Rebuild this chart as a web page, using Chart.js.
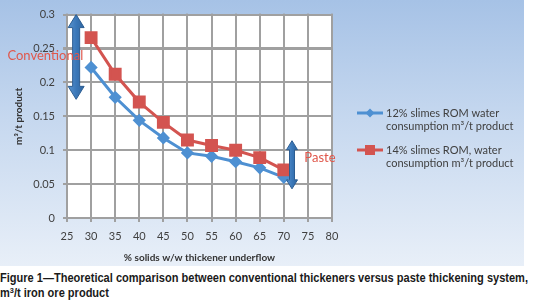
<!DOCTYPE html>
<html><head><meta charset="utf-8">
<script src="https://cdn.jsdelivr.net/npm/chart.js@4/dist/chart.umd.min.js"></script>
<style>
html,body{margin:0;padding:0;background:#fff;width:535px;height:306px;overflow:hidden}
.panel{position:absolute;left:0;top:0;width:524px;height:266px;background:linear-gradient(to bottom,#a6c2e6 0%,#c6d8ef 45%,#e8eff8 100%)}
canvas{position:absolute;left:0;top:0}
.cap{position:absolute;left:0;top:271px;font:bold 12px "Liberation Sans",Arial,sans-serif;color:#1a1a1a;line-height:15px;white-space:nowrap;transform-origin:0 0}
.cap sup{font-size:8px;line-height:0;vertical-align:4px}
</style></head><body>
<div class="panel"><canvas id="chartCanvas" width="524" height="266"></canvas></div>
<div class="cap" id="figCaption"><div id="figCaption1">Figure 1—Theoretical comparison between conventional thickeners versus paste thickening system,</div><div>m<sup>3</sup>/t iron ore product</div></div>
<script>
// ---- data ----
const solids = [30, 35, 40, 45, 50, 55, 60, 65, 70];
const slimes12 = [0.222, 0.178, 0.144, 0.118, 0.096, 0.091, 0.083, 0.074, 0.060];
const slimes14 = [0.266, 0.212, 0.171, 0.141, 0.115, 0.107, 0.100, 0.089, 0.071];
const xTickValues = [25, 30, 35, 40, 45, 50, 55, 60, 65, 70, 75, 80];
const yTickValues = [0, 0.05, 0.1, 0.15, 0.2, 0.25, 0.3];
const yTickLabels = ['0', '0.05', '0.1', '0.15', '0.2', '0.25', '0.3'];
const seriesLabels = [
  ['12% slimes ROM water', 'consumption m\u00B3/t product'],
  ['14% slimes ROM, water', 'consumption m\u00B3/t product']
];
const xTitle = '% solids w/w thickener underflow';
const yTitle = 'm\u00B3/t product';
// annotation arrows (data coordinates) and their labels
const arrowConventional = {x: 26.9, yTop: 0.300, yBottom: 0.175};
const arrowPaste = {x: 71.7, yTop: 0.114, yBottom: 0.043};
const labelConventional = {text: 'Conventional', x: 20.5, y: 0.239};
const labelPaste = {text: 'Paste', x: 77.5, y: 0.0895};

const BLUE = '#4e90d2', RED = '#d35450';
const GRID_COLOR = '#a0a0a0';
const FONT = 'Lato, "Open Sans", sans-serif';

const toXY = (xs, ys) => xs.map((x, i) => ({x, y: ys[i]}));

// grid (as filled bars) + white plot area painted underneath everything already drawn
const plotBgPlugin = {
  id: 'plotBg',
  afterDraw(chart) {
    const {ctx, chartArea: a, scales: {x, y}} = chart;
    ctx.save();
    ctx.setTransform(1, 0, 0, 1, 0, 0);
    ctx.globalAlpha = 1;
    ctx.globalCompositeOperation = 'destination-over';
    ctx.fillStyle = GRID_COLOR;
    xTickValues.forEach(v => { const px = Math.round(x.getPixelForValue(v)); ctx.fillRect(px - 1, a.top - 1, 2, a.bottom - a.top + 5); });
    yTickValues.forEach(v => { const py = Math.round(y.getPixelForValue(v)); ctx.fillRect(a.left - 4, py - 1, a.right - a.left + 5, 2); });
    ctx.fillStyle = '#ffffff';
    ctx.fillRect(a.left, a.top, a.right - a.left, a.bottom - a.top);
    ctx.restore();
  }
};

function drawArrow(ctx, x, y1, y2, shaft, headW, headL) {
  ctx.save();
  const g = ctx.createLinearGradient(x - headW / 2, 0, x + headW / 2, 0);
  g.addColorStop(0, '#5a94cf'); g.addColorStop(0.5, '#3b78b9'); g.addColorStop(1, '#2f66a0');
  ctx.beginPath();
  ctx.moveTo(x, y1);
  ctx.lineTo(x + headW / 2, y1 + headL);
  ctx.lineTo(x + shaft / 2, y1 + headL);
  ctx.lineTo(x + shaft / 2, y2 - headL);
  ctx.lineTo(x + headW / 2, y2 - headL);
  ctx.lineTo(x, y2);
  ctx.lineTo(x - headW / 2, y2 - headL);
  ctx.lineTo(x - shaft / 2, y2 - headL);
  ctx.lineTo(x - shaft / 2, y1 + headL);
  ctx.lineTo(x - headW / 2, y1 + headL);
  ctx.closePath();
  ctx.fillStyle = g; ctx.fill();
  ctx.strokeStyle = '#2c5d92'; ctx.lineWidth = 1; ctx.stroke();
  ctx.restore();
}

const annotPlugin = {
  id: 'annot',
  afterDatasetsDraw(chart) {
    const {ctx, scales: {x, y}} = chart;
    drawArrow(ctx, x.getPixelForValue(arrowConventional.x), y.getPixelForValue(arrowConventional.yTop),
      y.getPixelForValue(arrowConventional.yBottom), 7, 16, 13);
    drawArrow(ctx, x.getPixelForValue(arrowPaste.x), y.getPixelForValue(arrowPaste.yTop),
      y.getPixelForValue(arrowPaste.yBottom), 5, 11, 9);
    ctx.save();
    ctx.fillStyle = '#e0574b';
    ctx.font = '13px ' + FONT;
    ctx.textAlign = 'center'; ctx.textBaseline = 'middle';
    ctx.fillText(labelConventional.text, x.getPixelForValue(labelConventional.x), y.getPixelForValue(labelConventional.y));
    ctx.fillText(labelPaste.text, x.getPixelForValue(labelPaste.x), y.getPixelForValue(labelPaste.y));
    ctx.restore();
  },
  afterDraw(chart) {
    const ctx = chart.ctx;
    const rows = [113, 150];
    chart.data.datasets.forEach((ds, i) => {
      const yy = rows[i];
      ctx.save();
      ctx.strokeStyle = ds.borderColor; ctx.lineWidth = 3;
      ctx.beginPath(); ctx.moveTo(357, yy); ctx.lineTo(383, yy); ctx.stroke();
      ctx.fillStyle = ds.pointBackgroundColor;
      if (ds.pointStyle === 'rectRot') {
        ctx.beginPath(); ctx.moveTo(370, yy - 4.5); ctx.lineTo(374.5, yy); ctx.lineTo(370, yy + 4.5); ctx.lineTo(365.5, yy); ctx.closePath(); ctx.fill();
      } else {
        ctx.fillRect(365, yy - 5, 10, 10);
      }
      ctx.fillStyle = '#404040';
      ctx.font = '11px ' + FONT;
      ctx.textAlign = 'left'; ctx.textBaseline = 'middle';
      seriesLabels[i].forEach((t, k) => ctx.fillText(t, 386, yy + k * 13.5));
      ctx.restore();
    });
  }
};

new Chart(document.getElementById('chartCanvas'), {
  type: 'scatter',
  data: {
    datasets: [
      {label: seriesLabels[0].join(' '), data: toXY(solids, slimes12), showLine: true,
       borderColor: BLUE, backgroundColor: BLUE, pointBackgroundColor: BLUE, pointBorderColor: BLUE,
       borderWidth: 3, pointStyle: 'rectRot', pointRadius: 4.5, tension: 0, order: 2},
      {label: seriesLabels[1].join(' '), data: toXY(solids, slimes14), showLine: true,
       borderColor: RED, backgroundColor: RED, pointBackgroundColor: RED, pointBorderColor: RED,
       borderWidth: 3, pointStyle: 'rect', pointRadius: 7, tension: 0, order: 1}
    ]
  },
  options: {
    responsive: false, animation: false, devicePixelRatio: 1,
    layout: {padding: {left: 0, top: 7, right: 192, bottom: 0}},
    plugins: {legend: {display: false}, tooltip: {enabled: false}},
    scales: {
      x: {
        type: 'linear', position: 'bottom', min: xTickValues[0], max: xTickValues[xTickValues.length - 1],
        afterFit: s => { s.height = 48; },
        grid: {display: true, drawOnChartArea: true, color: GRID_COLOR, lineWidth: 2, tickLength: 4, drawTicks: true},
        border: {display: true, color: GRID_COLOR, width: 2},
        ticks: {stepSize: 5, color: '#404040', font: {family: FONT, size: 11}, padding: 8, maxRotation: 0,
                callback: v => String(v)},
        title: {display: true, text: xTitle, color: '#333', font: {family: FONT, size: 10, weight: 'bold'},
                padding: {top: 0, bottom: 2}}
      },
      y: {
        type: 'linear', position: 'left', min: yTickValues[0], max: yTickValues[yTickValues.length - 1],
        afterFit: s => { s.width = 67; },
        grid: {display: true, drawOnChartArea: true, color: GRID_COLOR, lineWidth: 2, tickLength: 4, drawTicks: true},
        border: {display: true, color: GRID_COLOR, width: 2},
        ticks: {stepSize: 0.05, autoSkip: false, color: '#404040', font: {family: FONT, size: 11}, padding: 8,
                callback: v => { const k = yTickValues.findIndex(t => Math.abs(t - v) < 1e-9); return k >= 0 ? yTickLabels[k] : ''; }},
        title: {display: true, text: yTitle, color: '#333', font: {family: FONT, size: 10, weight: 'bold'},
                padding: {top: 13, bottom: 0}}
      }
    }
  },
  plugins: [plotBgPlugin, annotPlugin]
});

const capEl = document.getElementById('figCaption');
const capW = document.getElementById('figCaption1').getBoundingClientRect().width;
capEl.style.transform = 'scaleX(' + (528 / capW) + ')';
</script>
</body></html>
